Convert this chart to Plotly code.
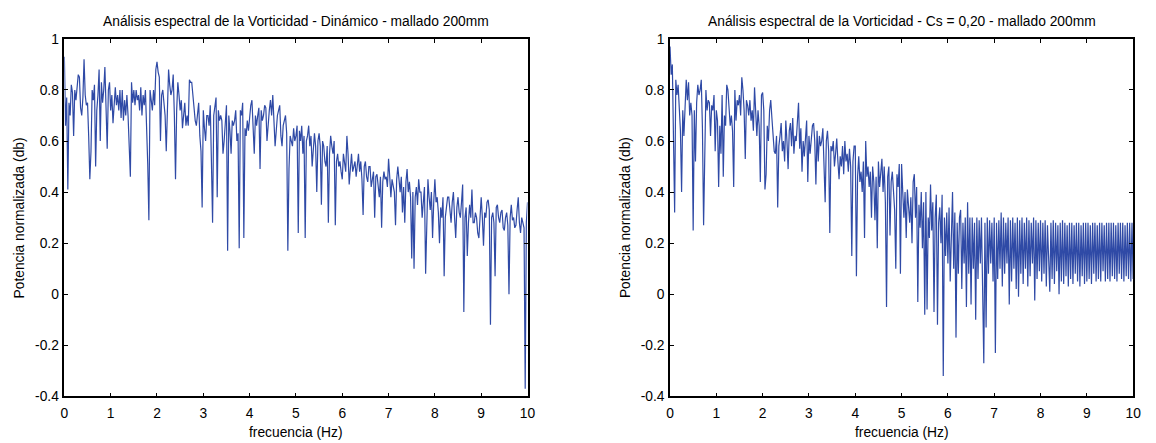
import numpy as np
import plotly.graph_objects as go

# Spectra sampled every 0.025 Hz from 0 to 10 Hz (20 samples per row = 0.5 Hz)
dinamico = [
    0.93, 0.66, 0.77, 0.41, 0.75, 0.70, 0.82, 0.79, 0.62, 0.80, 0.76, 0.80, 0.86, 0.85, 0.73, 0.70, 0.77, 0.92, 0.78, 0.74,
    0.75, 0.62, 0.45, 0.56, 0.80, 0.76, 0.82, 0.50, 0.72, 0.78, 0.88, 0.60, 0.83, 0.75, 0.80, 0.89, 0.74, 0.57, 0.80, 0.83,
    0.72, 0.78, 0.67, 0.76, 0.81, 0.74, 0.78, 0.72, 0.80, 0.69, 0.80, 0.68, 0.76, 0.70, 0.78, 0.70, 0.58, 0.46, 0.83, 0.75,
    0.80, 0.74, 0.80, 0.76, 0.78, 0.72, 0.81, 0.70, 0.78, 0.74, 0.80, 0.68, 0.51, 0.29, 0.80, 0.76, 0.72, 0.80, 0.74, 0.88,
    0.91, 0.87, 0.85, 0.60, 0.78, 0.80, 0.75, 0.70, 0.56, 0.78, 0.88, 0.82, 0.78, 0.80, 0.86, 0.70, 0.45, 0.72, 0.83, 0.78,
    0.72, 0.76, 0.65, 0.70, 0.75, 0.66, 0.70, 0.66, 0.84, 0.83, 0.83, 0.78, 0.72, 0.68, 0.66, 0.72, 0.75, 0.62, 0.56, 0.34,
    0.72, 0.65, 0.60, 0.70, 0.70, 0.66, 0.74, 0.52, 0.28, 0.70, 0.74, 0.77, 0.38, 0.72, 0.68, 0.70, 0.68, 0.55, 0.60, 0.66,
    0.74, 0.17, 0.70, 0.64, 0.55, 0.68, 0.66, 0.68, 0.72, 0.60, 0.63, 0.18, 0.72, 0.70, 0.75, 0.22, 0.65, 0.62, 0.68, 0.64,
    0.70, 0.74, 0.76, 0.64, 0.55, 0.70, 0.66, 0.70, 0.73, 0.49, 0.72, 0.68, 0.70, 0.74, 0.73, 0.60, 0.67, 0.72, 0.76, 0.70,
    0.78, 0.66, 0.58, 0.64, 0.70, 0.72, 0.74, 0.62, 0.58, 0.66, 0.68, 0.70, 0.63, 0.17, 0.49, 0.62, 0.60, 0.58, 0.65, 0.60,
    0.62, 0.66, 0.24, 0.64, 0.60, 0.66, 0.55, 0.62, 0.22, 0.60, 0.62, 0.66, 0.58, 0.62, 0.50, 0.56, 0.63, 0.58, 0.40, 0.60,
    0.63, 0.58, 0.35, 0.60, 0.58, 0.52, 0.50, 0.58, 0.28, 0.55, 0.62, 0.58, 0.55, 0.60, 0.27, 0.52, 0.55, 0.50, 0.52, 0.48,
    0.45, 0.55, 0.52, 0.48, 0.62, 0.55, 0.43, 0.50, 0.55, 0.48, 0.50, 0.52, 0.46, 0.50, 0.55, 0.48, 0.52, 0.45, 0.31, 0.50,
    0.52, 0.46, 0.44, 0.50, 0.50, 0.42, 0.45, 0.48, 0.30, 0.46, 0.47, 0.42, 0.38, 0.46, 0.26, 0.44, 0.48, 0.45, 0.46, 0.42,
    0.53, 0.46, 0.38, 0.45, 0.43, 0.40, 0.27, 0.45, 0.50, 0.44, 0.40, 0.46, 0.32, 0.42, 0.28, 0.44, 0.49, 0.40, 0.44, 0.38,
    0.14, 0.40, 0.10, 0.38, 0.42, 0.35, 0.45, 0.40, 0.40, 0.30, 0.35, 0.42, 0.08, 0.30, 0.45, 0.38, 0.33, 0.40, 0.22, 0.36,
    0.45, 0.36, 0.38, 0.32, 0.20, 0.34, 0.30, 0.38, 0.07, 0.30, 0.35, 0.38, 0.38, 0.32, 0.28, 0.36, 0.40, 0.30, 0.22, 0.34,
    0.38, 0.32, 0.30, 0.36, 0.43, -0.07, 0.30, 0.34, 0.15, 0.28, 0.35, 0.30, 0.41, 0.28, 0.28, 0.32, 0.30, 0.24, 0.22, 0.30,
    0.38, 0.30, 0.19, 0.32, 0.30, 0.36, 0.37, 0.33, -0.12, 0.30, 0.32, 0.28, 0.07, 0.34, 0.35, 0.30, 0.28, 0.32, 0.33, 0.26,
    0.25, 0.30, 0.32, 0.27, 0.00, 0.30, 0.35, 0.29, 0.30, 0.26, 0.27, 0.33, 0.38, 0.28, 0.24, 0.30, 0.28, 0.26, -0.37, 0.28,
    0.36,
]

cs020 = [
    0.97, 0.86, 0.90, 0.62, 0.32, 0.84, 0.78, 0.82, 0.70, 0.64, 0.40, 0.72, 0.62, 0.76, 0.84, 0.76, 0.83, 0.70, 0.75, 0.70,
    0.25, 0.72, 0.52, 0.75, 0.82, 0.78, 0.80, 0.84, 0.65, 0.27, 0.63, 0.80, 0.72, 0.76, 0.75, 0.62, 0.74, 0.72, 0.78, 0.56,
    0.72, 0.68, 0.42, 0.66, 0.55, 0.78, 0.46, 0.70, 0.66, 0.82, 0.80, 0.72, 0.66, 0.70, 0.64, 0.42, 0.80, 0.68, 0.76, 0.74,
    0.78, 0.70, 0.85, 0.80, 0.72, 0.53, 0.76, 0.74, 0.70, 0.76, 0.68, 0.72, 0.64, 0.81, 0.68, 0.62, 0.72, 0.66, 0.44, 0.78,
    0.79, 0.72, 0.41, 0.47, 0.66, 0.60, 0.72, 0.76, 0.69, 0.62, 0.56, 0.55, 0.62, 0.34, 0.58, 0.62, 0.67, 0.56, 0.60, 0.52,
    0.68, 0.60, 0.49, 0.64, 0.67, 0.58, 0.69, 0.55, 0.62, 0.60, 0.66, 0.75, 0.57, 0.65, 0.48, 0.60, 0.54, 0.62, 0.68, 0.44,
    0.62, 0.55, 0.60, 0.66, 0.67, 0.60, 0.43, 0.64, 0.52, 0.62, 0.58, 0.60, 0.65, 0.52, 0.36, 0.60, 0.64, 0.56, 0.24, 0.58,
    0.56, 0.60, 0.50, 0.55, 0.61, 0.52, 0.45, 0.54, 0.50, 0.58, 0.47, 0.60, 0.52, 0.55, 0.48, 0.57, 0.50, 0.15, 0.52, 0.58,
    0.58, 0.07, 0.46, 0.54, 0.44, 0.48, 0.40, 0.52, 0.22, 0.60, 0.46, 0.50, 0.42, 0.48, 0.30, 0.50, 0.44, 0.29, 0.46, 0.18,
    0.52, 0.42, 0.48, 0.53, 0.40, 0.50, 0.36, -0.05, 0.46, 0.50, 0.23, 0.44, 0.48, 0.40, 0.33, 0.10, 0.47, 0.42, 0.51, 0.08,
    0.51, 0.40, 0.30, 0.40, 0.22, 0.41, 0.35, 0.28, 0.38, 0.20, 0.44, 0.47, 0.30, 0.42, -0.03, 0.35, 0.26, 0.40, 0.18, 0.36,
    -0.08, 0.40, -0.06, 0.30, 0.22, 0.43, 0.25, 0.36, -0.07, 0.30, 0.39, -0.12, 0.28, 0.34, 0.20, 0.39, -0.32, 0.30, 0.15, 0.32,
    0.12, 0.34, 0.05, 0.30, 0.40, 0.10, 0.32, -0.17, 0.28, 0.08, 0.30, 0.33, 0.02, 0.28, 0.12, 0.30, -0.05, 0.36, 0.08, 0.30,
    -0.04, 0.30, 0.10, 0.28, -0.10, 0.30, 0.06, 0.29, 0.12, 0.30, 0.04, -0.27, 0.28, -0.13, 0.30, 0.08, 0.29, 0.12, 0.28, 0.05,
    0.30, -0.23, 0.28, 0.06, 0.29, 0.10, 0.32, 0.03, 0.30, 0.08, 0.28, 0.12, 0.30, -0.04, 0.29, 0.05, 0.30, 0.10, 0.28, 0.02,
    0.30, -0.01, 0.29, 0.08, 0.30, 0.04, 0.28, 0.10, 0.30, 0.03, 0.29, 0.07, 0.28, 0.12, 0.30, -0.025, 0.29, 0.06, 0.28, 0.09,
    0.29, 0.05, 0.28, 0.08, 0.29, 0.03, 0.27, 0.10, 0.01, 0.28, 0.06, 0.29, 0.04, 0.28, 0.09, 0.27, 0.00, 0.28, 0.05, 0.29,
    0.04, 0.28, 0.07, 0.27, 0.03, 0.28, 0.06, 0.28, 0.04, 0.27, 0.08, 0.28, 0.05, 0.28, 0.03, 0.27, 0.07, 0.28, 0.04, 0.28,
    0.05, 0.28, 0.06, 0.27, 0.04, 0.28, 0.08, 0.28, 0.05, 0.27, 0.06, 0.28, 0.05, 0.28, 0.09, 0.27, 0.05, 0.28, 0.06, 0.28,
    0.05, 0.28, 0.07, 0.28, 0.06, 0.27, 0.05, 0.28, 0.08, 0.28, 0.06, 0.28, 0.05, 0.27, 0.07, 0.28, 0.06, 0.28, 0.05, 0.28,
    0.06,
]

x_ticks = [0, 1, 2, 3, 4, 5, 6, 7, 8, 9, 10]
y_ticks = [-0.4, -0.2, 0, 0.2, 0.4, 0.6, 0.8, 1]
y_tick_labels = ["-0.4", "-0.2", "0", "0.2", "0.4", "0.6", "0.8", "1"]

titles = [
    "Análisis espectral de la Vorticidad - Dinámico - mallado 200mm",
    "Análisis espectral de la Vorticidad - Cs = 0,20 - mallado 200mm",
]
x_label = "frecuencia (Hz)"
y_label = "Potencia normalizada (db)"

FONT = "Liberation Sans, Arial, Helvetica, sans-serif"
LINE = "#2f4aa6"
W, H = 1156, 443
FS = 13.8


def freq_axis(values):
    return np.linspace(0, 10, len(values))


fig = go.Figure()
fig.add_trace(go.Scatter(x=freq_axis(dinamico), y=dinamico, mode="lines",
                         line=dict(color=LINE, width=1.2), xaxis="x", yaxis="y",
                         showlegend=False, hoverinfo="skip"))
fig.add_trace(go.Scatter(x=freq_axis(cs020), y=cs020, mode="lines",
                         line=dict(color=LINE, width=1.2), xaxis="x2", yaxis="y2",
                         showlegend=False, hoverinfo="skip"))

# pixel geometry of the two axes boxes
left_box = (61, 529)
right_box = (673, 1141)
top_px, bottom_px = 33, 403
ydom = [1 - bottom_px / H, 1 - top_px / H]

common_x = dict(range=[0, 10], tickvals=x_ticks, ticks="inside", ticklen=4, tickwidth=1,
                tickcolor="black", showline=True, linecolor="black", linewidth=1.5,
                mirror="allticks", showgrid=False, zeroline=False, ticklabelstandoff=3,
                tickfont=dict(family=FONT, size=FS, color="black"))
common_y = dict(range=[-0.4, 1], tickvals=y_ticks, ticktext=y_tick_labels, ticks="inside",
                ticklen=4, tickwidth=1, tickcolor="black", showline=True, linecolor="black",
                linewidth=1.5, mirror="allticks", showgrid=False, zeroline=False,
                ticklabelstandoff=1,
                tickfont=dict(family=FONT, size=FS, color="black"))

fig.update_layout(
    width=W, height=H,
    margin=dict(l=0, r=0, t=0, b=0),
    paper_bgcolor="white", plot_bgcolor="white",
    xaxis=dict(domain=[left_box[0] / W, left_box[1] / W], anchor="y", **common_x),
    yaxis=dict(domain=ydom, anchor="x", **common_y),
    xaxis2=dict(domain=[right_box[0] / W, right_box[1] / W], anchor="y2", **common_x),
    yaxis2=dict(domain=ydom, anchor="x2", **common_y),
)

annotations = []
for box, title, ylab_x in [(left_box, titles[0], 16), (right_box, titles[1], 628)]:
    cx = (box[0] + box[1]) / 2 / W
    annotations.append(dict(text=title, x=cx, y=1 - 15 / H, xref="paper", yref="paper",
                            showarrow=False, xanchor="center", yanchor="middle",
                            font=dict(family=FONT, size=FS, color="black")))
    annotations.append(dict(text=x_label, x=cx, y=1 - 440 / H, xref="paper", yref="paper",
                            showarrow=False, xanchor="center", yanchor="middle",
                            font=dict(family=FONT, size=FS, color="black")))
    annotations.append(dict(text=y_label, x=ylab_x / W, y=1 - 218 / H, xref="paper",
                            yref="paper", showarrow=False, xanchor="center",
                            yanchor="middle", textangle=-90,
                            font=dict(family=FONT, size=FS, color="black")))
fig.update_layout(annotations=annotations)

fig.write_html("out.html")
